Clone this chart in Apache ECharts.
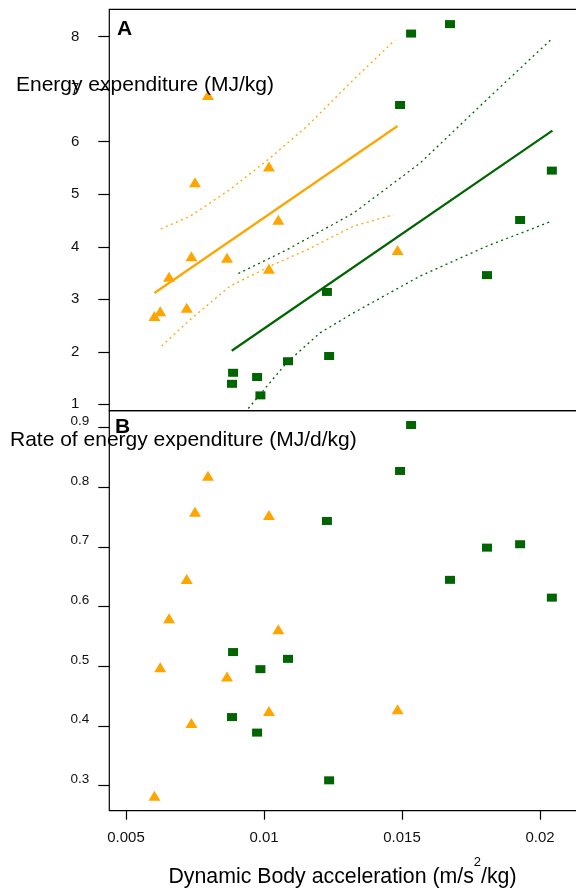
<!DOCTYPE html>
<html>
<head>
<meta charset="utf-8">
<script src="https://cdn.jsdelivr.net/npm/echarts@6/dist/echarts.min.js"></script>
<style>
html, body { margin: 0; padding: 0; background: #fff; }
#chart-box { width: 576px; height: 888px; }
</style>
</head>
<body>
<div id="chart-box"></div>
<script>
// dynamic body acceleration (x) shared by both panels
var dbaOrange = [0.00797, 0.01018, 0.0075, 0.01052, 0.00737, 0.00866, 0.01018, 0.00656, 0.0072, 0.00624, 0.00603, 0.01484];
var dbaGreen = [0.01533, 0.01674, 0.01493, 0.02043, 0.01928, 0.01808, 0.01228, 0.01236, 0.01087, 0.00888, 0.00975, 0.00884, 0.00987];

// panel A: energy expenditure (MJ/kg)
var eeOrange = [6.89, 5.53, 5.23, 4.515, 3.82, 3.79, 3.58, 3.43, 2.84, 2.77, 2.68, 3.94];
var eeGreen = [8.06, 8.24, 6.70, 5.45, 4.51, 3.46, 3.14, 1.92, 1.82, 1.60, 1.52, 1.39, 1.17];

// panel B: rate of energy expenditure (MJ/d/kg)
var rateOrange = [0.8196, 0.7538, 0.7593, 0.5623, 0.4049, 0.483, 0.4254, 0.5807, 0.6466, 0.4987, 0.2831, 0.4283];
var rateGreen = [0.9045, 0.645, 0.8275, 0.6152, 0.7047, 0.699, 0.7437, 0.309, 0.5126, 0.524, 0.389, 0.415, 0.4953];

// fitted lines and confidence bands (panel A)
var fitOrangeX = [0.00603, 0.01484];
var fitOrangeY = [3.12, 6.30];
var fitGreenX = [0.00883, 0.02045];
var fitGreenY = [2.02, 6.21];
var bandOrangeUpX = [0.00626, 0.00732, 0.00877, 0.01022, 0.01155, 0.01324, 0.01475];
var bandOrangeUpY = [4.34, 4.58, 5.09, 5.69, 6.29, 7.18, 7.94];
var bandOrangeLoX = [0.00629, 0.00732, 0.00877, 0.01022, 0.01155, 0.01324, 0.01469];
var bandOrangeLoY = [2.11, 2.61, 3.25, 3.63, 3.94, 4.39, 4.61];
var bandGreenUpX = [0.00907, 0.01082, 0.01324, 0.01565, 0.01807, 0.02039];
var bandGreenUpY = [3.49, 3.94, 4.64, 5.59, 6.80, 7.94];
var bandGreenLoX = [0.00943, 0.01082, 0.01203, 0.01324, 0.01565, 0.01807, 0.02039];
var bandGreenLoY = [0.92, 1.79, 2.36, 2.74, 3.44, 4.01, 4.48];

// tick labels
var xTicks = [0.005, 0.01, 0.015, 0.02];
var yTicksA = [1, 2, 3, 4, 5, 6, 7, 8];
var yTicksB = [0.3, 0.4, 0.5, 0.6, 0.7, 0.8, 0.9];

var ORANGE = '#FFA500';
var GREEN = '#006400';
var FONT = '"Liberation Sans", Arial, Helvetica, sans-serif';

function pairs(xs, ys) {
    var out = [];
    for (var i = 0; i < xs.length; i++) {
        out.push([xs[i], ys[i]]);
    }
    return out;
}

function bandLine(xs, ys, color) {
    return {
        type: 'line', xAxisIndex: 0, yAxisIndex: 0,
        data: pairs(xs, ys), symbol: 'none', silent: true,
        lineStyle: { color: color, width: 1.3, type: [2, 3.5] }
    };
}

function fitLine(xs, ys, color) {
    return {
        type: 'line', xAxisIndex: 0, yAxisIndex: 0,
        data: pairs(xs, ys), symbol: 'none', silent: true,
        lineStyle: { color: color, width: 2.2 }
    };
}

function pts(xIdx, xs, ys, color, symbol, size) {
    return {
        type: 'scatter', xAxisIndex: xIdx, yAxisIndex: xIdx,
        data: pairs(xs, ys), symbol: symbol, symbolSize: size,
        itemStyle: { color: color, opacity: 1 }, silent: true
    };
}

var xMin = 0.004395, xMax = 0.021352;

var option = {
    animation: false,
    backgroundColor: '#fff',
    grid: [
        { left: 109.3, top: 9.3, width: 468, height: 401.4, outerBoundsMode: 'none', show: true, borderColor: '#000', borderWidth: 1.2, backgroundColor: 'transparent' },
        { left: 109.3, top: 410.7, width: 468, height: 400, outerBoundsMode: 'none', show: true, borderColor: '#000', borderWidth: 1.2, backgroundColor: 'transparent' }
    ],
    xAxis: [
        {
            type: 'value', gridIndex: 0, min: xMin, max: xMax,
            axisLine: { show: false }, axisTick: { show: false },
            axisLabel: { show: false }, splitLine: { show: false }
        },
        {
            type: 'value', gridIndex: 1, min: xMin, max: xMax,
            axisLine: { show: false }, splitLine: { show: false },
            axisTick: { show: true, length: 9, customValues: xTicks, lineStyle: { color: '#000', width: 1.2 } },
            axisLabel: {
                customValues: xTicks, margin: 20, color: '#111',
                fontFamily: FONT, fontSize: 15,
                formatter: function (v) { return String(v); }
            }
        }
    ],
    yAxis: [
        {
            type: 'value', gridIndex: 0, min: 0.878, max: 8.522,
            axisLine: { show: false }, splitLine: { show: false },
            axisTick: { show: true, length: 11, customValues: yTicksA, lineStyle: { color: '#000', width: 1.2 } },
            axisLabel: { customValues: yTicksA, margin: 30, color: '#111', fontFamily: FONT, fontSize: 15 }
        },
        {
            type: 'value', gridIndex: 1, min: 0.2581, max: 0.9285,
            axisLine: { show: false }, splitLine: { show: false },
            axisTick: { show: true, length: 11, customValues: yTicksB, lineStyle: { color: '#000', width: 1.2 } },
            axisLabel: {
                customValues: yTicksB, margin: 20, color: '#111', fontFamily: FONT, fontSize: 13.5,
                verticalAlign: 'bottom', lineHeight: 13,
                formatter: function (v) { return String(v); }
            }
        }
    ],
    graphic: [
        { type: 'text', z: 100, style: { x: 117, y: 29, text: 'A', font: 'bold 21px ' + FONT, fill: '#000', verticalAlign: 'middle' } },
        { type: 'text', z: 100, style: { x: 115, y: 427, text: 'B', font: 'bold 21px ' + FONT, fill: '#000', verticalAlign: 'middle' } },
        { type: 'text', z: 100, style: { x: 16, y: 85, text: 'Energy expenditure (MJ/kg)', font: '21px ' + FONT, fill: '#000', verticalAlign: 'middle' } },
        { type: 'text', z: 100, style: { x: 10, y: 440, text: 'Rate of energy expenditure (MJ/d/kg)', font: '21px ' + FONT, fill: '#000', verticalAlign: 'middle' } },
        {
            type: 'text', z: 100,
            style: {
                x: 342.5, y: 877, text: 'Dynamic Body acceleration (m/s{sup|2}/kg)',
                font: '21.3px ' + FONT, fill: '#000', align: 'center', verticalAlign: 'middle',
                rich: {
                    sup: { fontSize: 13, fontFamily: FONT, fill: '#000', padding: [0, 0, 30, 0] }
                }
            }
        }
    ],
    series: [
        bandLine(bandOrangeUpX, bandOrangeUpY, ORANGE),
        bandLine(bandOrangeLoX, bandOrangeLoY, ORANGE),
        bandLine(bandGreenUpX, bandGreenUpY, GREEN),
        bandLine(bandGreenLoX, bandGreenLoY, GREEN),
        fitLine(fitOrangeX, fitOrangeY, ORANGE),
        fitLine(fitGreenX, fitGreenY, GREEN),
        pts(0, dbaOrange, eeOrange, ORANGE, 'triangle', [12, 10]),
        pts(0, dbaGreen, eeGreen, GREEN, 'rect', [10, 8]),
        pts(1, dbaOrange, rateOrange, ORANGE, 'triangle', [12, 10]),
        pts(1, dbaGreen, rateGreen, GREEN, 'rect', [10, 8])
    ]
};

var myChart = echarts.init(document.getElementById('chart-box'), null, { renderer: 'canvas' });
myChart.setOption(option);
</script>
</body>
</html>
